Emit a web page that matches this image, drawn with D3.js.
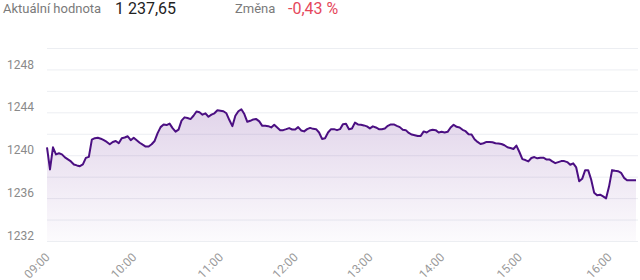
<!DOCTYPE html>
<html>
<head>
<meta charset="utf-8">
<script src="https://cdn.jsdelivr.net/npm/d3@7"></script>
<style>
  body { margin: 0; background: #fff; font-family: Roboto, "Noto Sans", sans-serif; }
</style>
</head>
<body>
<div id="container"></div>
<script>
// header values
const currentLabel = "Aktuální hodnota",
      currentValue = "1 237,65",
      changeLabel = "Změna",
      changeValue = "-0,43 %";

// index-ticks for the hours (points are not evenly spread in time)
const hourLabels = ["09:00", "10:00", "11:00", "12:00", "13:00", "14:00", "15:00", "16:00"];
const hourIndex = [0, 29, 58, 83, 108, 132, 158, 188];

const yTicks = [1232, 1236, 1240, 1244, 1248];

// index values
const values = [
  1240.74, 1238.67, 1240.74, 1240.08, 1240.18, 1240.08, 1239.80, 1239.61, 1239.42, 1239.14,
  1239.05, 1238.98, 1239.14, 1239.75, 1239.85, 1241.45, 1241.59, 1241.63, 1241.54, 1241.40,
  1241.24, 1241.02, 1241.24, 1241.33, 1241.12, 1241.59, 1241.65, 1241.77, 1241.40, 1241.63,
  1241.40, 1241.16, 1240.98, 1240.81, 1240.81, 1241.02, 1241.33, 1242.06, 1242.62, 1242.86,
  1242.81, 1242.95, 1242.53, 1242.20, 1242.39, 1243.23, 1243.53, 1243.47, 1243.37, 1243.68,
  1244.08, 1244.00, 1243.78, 1243.91, 1243.59, 1243.78, 1243.91, 1244.19, 1244.15, 1244.10,
  1243.91, 1243.28, 1242.71, 1243.68, 1244.10, 1244.28, 1243.84, 1243.12, 1243.21, 1243.34,
  1243.37, 1243.16, 1242.74, 1242.74, 1242.71, 1242.59, 1242.84, 1242.59, 1242.34, 1242.34,
  1242.43, 1242.53, 1242.40, 1242.40, 1242.62, 1242.31, 1242.22, 1242.43, 1242.55, 1242.46,
  1242.43, 1242.12, 1241.52, 1241.59, 1242.12, 1242.43, 1242.43, 1242.34, 1242.43, 1242.90,
  1242.93, 1242.43, 1242.50, 1243.04, 1242.87, 1242.84, 1242.78, 1242.69, 1242.50, 1242.69,
  1242.59, 1242.43, 1242.43, 1242.50, 1242.74, 1242.87, 1242.87, 1242.74, 1242.62, 1242.37,
  1242.34, 1242.08, 1241.93, 1241.87, 1241.80, 1241.80, 1242.22, 1242.12, 1242.31, 1242.37,
  1242.34, 1242.12, 1242.18, 1242.12, 1242.18, 1242.59, 1242.84, 1242.65, 1242.59, 1242.37,
  1242.24, 1241.96, 1241.93, 1241.49, 1241.24, 1241.05, 1241.12, 1241.24, 1241.24, 1241.21,
  1241.12, 1241.09, 1241.05, 1240.93, 1240.74, 1240.67, 1240.58, 1240.90, 1240.30, 1239.64,
  1239.55, 1239.42, 1239.74, 1239.83, 1239.71, 1239.77, 1239.77, 1239.61, 1239.61, 1239.42,
  1239.26, 1239.36, 1239.45, 1239.45, 1239.36, 1239.11, 1239.24, 1238.86, 1237.57, 1237.80,
  1238.61, 1238.61, 1237.73, 1236.51, 1236.26, 1236.32, 1236.16, 1235.98, 1237.10, 1238.61,
  1238.55, 1238.51, 1238.36, 1237.89, 1237.67, 1237.67, 1237.67, 1237.67
];

const WIDTH = 640,
      HEIGHT = 280;

const margin = { top: 48, bottom: 39, left: 47, right: 2 };

const width = WIDTH - margin.left - margin.right,
      height = HEIGHT - margin.top - margin.bottom;

const svg = d3.select('#container').append('svg')
    .attr("width", WIDTH).attr("height", HEIGHT)
    .style("display", "block");

// header
const header = svg.append("g").style("font-family", "Roboto, sans-serif");
header.append("text").attr("x", 3).attr("y", 13).attr("font-size", 13).attr("fill", "#7a7a7a").text(currentLabel);
header.append("text").attr("x", 115).attr("y", 14).attr("font-size", 16).attr("fill", "#222").text(currentValue);
header.append("text").attr("x", 235).attr("y", 13).attr("font-size", 13).attr("fill", "#7a7a7a").text(changeLabel);
header.append("text").attr("x", 288).attr("y", 14).attr("font-size", 16).attr("fill", "#e5475b").text(changeValue);

const container = svg.append('g').attr("transform", `translate(${margin.left}, ${margin.top})`);

const xScale = d3.scaleLinear()
    .domain([0, values.length - 1])
    .range([0, width - 2]);

const yScale = d3.scaleLinear()
    .domain([1232, 1250])
    .range([height, 0]);

// gridlines every 2 points
const grid = container.append("g")
    .call(d3.axisLeft(yScale).tickValues(d3.range(1232, 1251, 2)).tickSize(-width).tickFormat(""));
grid.select(".domain").remove();
grid.selectAll("line").attr("stroke", "#eceef2").attr("stroke-width", 1);

// y labels
const yAxis = svg.append("g")
    .attr("transform", `translate(${margin.left}, ${margin.top})`)
    .call(d3.axisLeft(yScale).tickValues(yTicks).tickSize(0).tickPadding(13).tickFormat(d3.format("d")));
yAxis.select(".domain").remove();
yAxis.selectAll("text")
    .attr("dy", "-0.12em")
    .attr("fill", "#8a8a8a")
    .style("font-size", "12px")
    .style("font-family", "Roboto, sans-serif");

// x labels
const xAxis = svg.append("g")
    .attr("transform", `translate(${margin.left}, ${margin.top + height})`)
    .call(d3.axisBottom(xScale).tickValues(hourIndex).tickSize(0)
          .tickFormat((d, i) => hourLabels[i]));
xAxis.select(".domain").remove();
xAxis.selectAll("text")
    .attr("fill", "#9a9a9a")
    .style("font-size", "12px")
    .style("font-family", "Roboto, sans-serif")
    .style("text-anchor", "end")
    .attr("dy", 0)
    .attr("y", 0)
    .attr("transform", "translate(3, 17) rotate(-45)");

// gradient under the line
const defs = svg.append("defs");
const grad = defs.append("linearGradient")
    .attr("id", "fade")
    .attr("gradientUnits", "userSpaceOnUse")
    .attr("x1", 0).attr("x2", 0)
    .attr("y1", yScale(d3.max(values))).attr("y2", height);
grad.append("stop").attr("offset", "0%").attr("stop-color", "#6a2a96").attr("stop-opacity", 0.2);
grad.append("stop").attr("offset", "100%").attr("stop-color", "#6a2a96").attr("stop-opacity", 0.02);

const area = d3.area()
    .x((d, i) => xScale(i))
    .y0(height)
    .y1((d) => yScale(d));

const line = d3.line()
    .x((d, i) => xScale(i))
    .y((d) => yScale(d));

container.append("path")
    .datum(values)
    .attr("fill", "url(#fade)")
    .attr("d", area);

container.append("path")
    .datum(values)
    .attr("fill", "none")
    .attr("stroke", "#4b0f82")
    .attr("stroke-width", 2)
    .attr("stroke-linejoin", "round")
    .attr("d", line);
</script>
</body>
</html>
